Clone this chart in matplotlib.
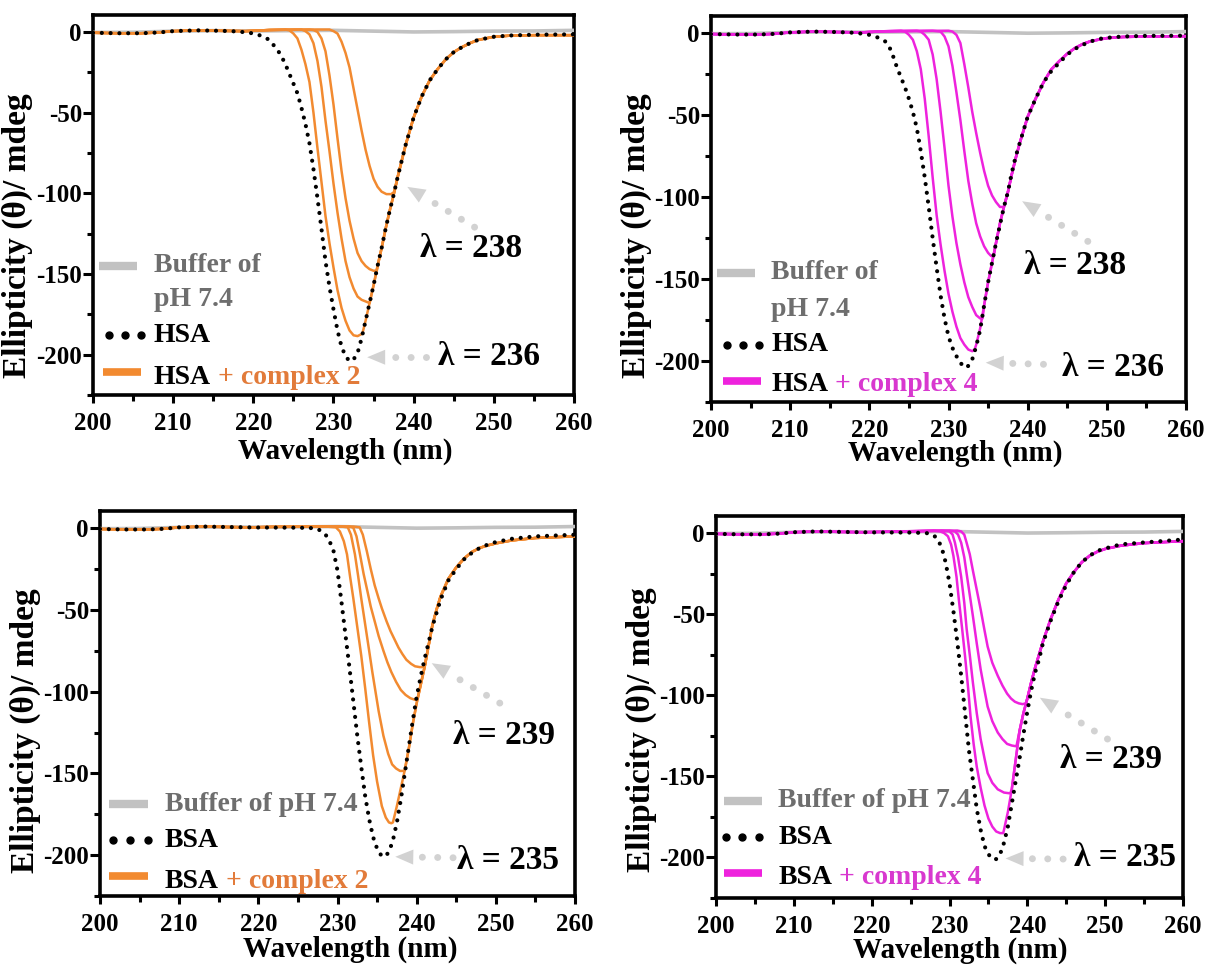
import matplotlib
matplotlib.use("Agg")
import numpy as np
import matplotlib.pyplot as plt
from matplotlib.ticker import MultipleLocator
from matplotlib.patches import Polygon

plt.rcParams['font.family'] = ['Liberation Serif', 'DejaVu Serif']
plt.rcParams['font.weight'] = 'bold'

# ---------------- data ----------------
buffer_wl = [200, 205, 210, 215, 220, 225, 230, 235, 240, 245, 250, 255, 260]
buffer_val = [-0.3, -0.2, 0.5, 0.8, 0.6, 0.8, 1.0, 0.5, 0.0, 0.2, 0.5, 0.6, 1.0]

pre_wl = [200, 203, 206, 208, 210, 213, 216, 219]
pre_val = [-0.5, -0.8, -0.8, -0.4, 0.5, 1.0, 0.7, 0.5]

# Panel 1: HSA + complex 2
p1_protein_wl = [200, 203, 206, 208, 210, 213, 216, 218, 219.5, 220.5, 221.5, 222, 222.5, 223, 223.5, 224, 224.5,
                 225, 225.5, 226, 226.5, 227, 227.5, 228, 228.5, 229, 229.5, 230, 230.5, 231, 231.5, 232, 232.5,
                 233, 233.5, 234, 234.5, 235, 235.5, 236, 236.5, 237, 237.5, 238, 239, 240, 241, 242, 243, 244,
                 245, 246, 247, 248, 250, 252, 255, 260]
p1_protein_val = [-0.5, -0.8, -0.8, -0.4, 0.5, 1.0, 0.7, 0.3, -0.5, -1.5, -3.5, -5, -8, -11, -15, -20, -26,
                  -32, -38, -47, -57, -69, -85, -103, -122, -142, -158, -172, -185, -195, -201, -204, -203,
                  -199, -190, -179, -168, -157, -145, -134, -122, -111, -101, -90, -70, -53, -40, -30, -23, -17,
                  -12.5, -9.5, -7, -5, -3, -2.2, -1.7, -1.5]
p1_tail_wl = [234, 234.5, 235, 235.5, 236, 236.5, 237, 237.5, 238, 239, 240, 241, 242, 243, 244, 245, 246, 247,
              248, 250, 252, 255, 260]
p1_tail_val = [-179, -168, -157, -145, -134, -122, -111, -101, -90, -70, -53, -40, -30, -23, -17, -12.5, -9.5,
               -7, -5, -3, -2.3, -2, -2]
p1_c1_wl = [222, 224, 224.5, 225, 225.5, 226, 226.5, 227, 227.5, 228, 228.5, 229, 229.5, 230, 230.5, 231, 231.5,
            232, 232.5, 233, 233.6]
p1_c1_val = [1.2, 1.5, 1, -1, -4, -11, -20, -31, -50, -72, -93, -114, -131, -146, -160, -171, -179, -185, -188,
             -188.5, -187]
p1_c2_wl = [222, 225, 226, 226.5, 227, 227.5, 228, 228.5, 229, 229.5, 230, 230.5, 231, 231.5, 232, 232.5, 233,
            233.5, 234, 234.5]
p1_c2_val = [1.2, 1.5, 1.5, 0.5, -1.5, -7, -18, -34, -55, -74, -94, -112, -128, -142, -152, -159, -164, -166,
             -167, -168]
p1_c3_wl = [222, 227, 227.5, 228, 228.5, 229, 229.5, 230, 230.5, 231, 231.5, 232, 232.5, 233, 233.5, 234, 234.5,
            235, 235.4]
p1_c3_val = [1.2, 1.5, 1.2, 0, -4, -12, -27, -45, -66, -86, -103, -117, -128, -137, -142, -145, -147, -148, -148]
p1_c4_wl = [222, 228, 229.5, 230, 230.5, 231, 231.5, 232, 232.5, 233, 233.5, 234, 234.5, 235, 235.5, 236, 236.6,
            237.2, 237.6]
p1_c4_val = [1.2, 1.5, 1.5, 0.5, -1, -6, -13, -22, -35, -48, -61, -73, -83, -91, -96, -99, -100.5, -100.5, -99]

# Panel 2: HSA + complex 4
p2_protein_wl = [200, 203, 206, 208, 210, 213, 216, 218, 219.5, 220.5, 221.5, 222, 222.5, 223, 223.5, 224, 224.5,
                 225, 225.5, 226, 226.5, 227, 227.5, 228, 228.5, 229, 229.5, 230, 230.5, 231, 231.5, 232, 232.5,
                 233, 233.5, 234, 234.5, 235, 235.5, 236, 236.5, 237, 237.5, 238, 238.5, 239, 240, 241, 242,
                 243, 244, 245, 246, 247, 248, 249, 250, 252, 255, 260]
p2_protein_val = [-0.5, -0.8, -0.8, -0.4, 0.5, 1.0, 0.7, 0.3, -0.5, -1.5, -3.5, -5, -8, -14, -21, -27, -33, -40,
                  -48, -58, -72, -88, -106, -125, -143, -160, -174, -185, -192, -197, -201, -204, -203, -199,
                  -191, -181, -166, -152, -140, -128, -117, -106, -97, -85, -75, -67, -51, -40, -30, -23, -18,
                  -13, -9.5, -7, -5, -3.5, -2.8, -2, -1.6, -1.5]
p2_tail_wl = [233.5, 234, 234.5, 235, 235.5, 236, 236.5, 237, 237.5, 238, 238.5, 239, 240, 241, 242, 243, 244,
              245, 246, 247, 248, 250, 252, 255, 260]
p2_tail_val = [-190, -180, -166, -152, -140, -128, -116, -106, -97, -86, -76, -67, -51, -40, -30, -22, -17,
               -12.5, -9, -6.5, -4.8, -3, -2.3, -2, -1.8]
p2_c1_wl = [222, 224, 224.5, 225, 225.5, 226, 226.5, 227, 227.5, 228, 228.5, 229, 229.5, 230, 230.5, 231, 231.5,
            232, 232.5, 233, 233.3]
p2_c1_val = [1.2, 1.5, 1, -1, -4, -11, -22, -40, -63, -88, -111, -129, -145, -159, -170, -179, -186, -190, -193,
             -194, -193]
p2_c2_wl = [222, 226, 226.5, 227, 227.5, 228, 228.5, 229, 229.5, 230, 230.5, 231, 231.5, 232, 232.5, 233, 233.5,
            234, 234.3]
p2_c2_val = [1.2, 1.5, 1, -1, -4, -13, -28, -48, -70, -93, -112, -128, -141, -152, -161, -167, -172, -174, -174]
p2_c3_wl = [222, 228, 229, 229.5, 230, 230.5, 231, 231.5, 232, 232.5, 233, 233.5, 234, 234.5, 235, 235.4, 235.7]
p2_c3_val = [1.2, 1.5, 1, -2, -8, -20, -36, -53, -72, -90, -104, -116, -124, -130, -134, -136, -136]
p2_c4_wl = [222, 230, 230.5, 231, 231.5, 232, 232.5, 233, 233.5, 234, 234.5, 235, 235.5, 236, 236.5, 236.9]
p2_c4_val = [1.2, 1.5, 1, -1, -6, -19, -33, -48, -61, -73, -84, -93, -99, -103, -106, -106]

# Panel 3: BSA + complex 2
p3_protein_wl = [200, 203, 206, 208, 210, 213, 216, 220, 225, 227, 227.5, 228, 228.5, 229, 229.5, 230, 230.5,
                 231, 231.5, 232, 232.5, 233, 233.5, 234, 234.5, 235, 235.5, 236, 236.5, 237, 237.5, 238, 238.5,
                 239, 239.5, 240, 240.5, 241, 242, 243, 244, 245, 246, 247, 248, 249, 250, 252, 255, 260]
p3_protein_val = [-0.5, -0.8, -0.8, -0.4, 0.5, 1.0, 0.7, 0.4, 0.3, 0, -0.5, -2, -4, -8, -14, -26, -45, -65, -85,
                  -106, -127, -146, -164, -178, -189, -196, -200, -201, -198, -191, -180, -166, -150, -134, -118,
                  -103, -91, -80, -60, -44, -32, -25, -19, -15, -12, -10, -8.5, -6.5, -5, -4]
p3_tail_wl = [237, 237.5, 238, 238.5, 239, 239.5, 240, 240.5, 241, 241.5, 242, 242.5, 243, 244, 245, 246, 247,
              248, 249, 250, 252, 255, 260]
p3_tail_val = [-180, -170, -159, -148, -135, -120, -107, -96, -85, -72, -59, -50, -42, -31, -24, -18.5, -14.5,
               -12, -10.5, -9.3, -7.5, -6, -5]
p3_c1_wl = [222, 228.5, 229.8, 230.3, 230.8, 231.2, 231.6, 232, 232.4, 233, 233.5, 234, 234.5, 235, 235.6, 236.1,
            236.5, 236.8]
p3_c1_val = [0.8, 1, 0.5, -2, -8, -16, -30, -43, -57, -78, -98, -119, -139, -155, -170, -177, -180, -180.5]
p3_c2_wl = [222, 230.5, 231.3, 231.7, 232.2, 232.6, 233, 233.5, 234, 234.4, 234.7, 235.2, 235.8, 236.4, 236.9,
            237.4, 237.9, 238.4]
p3_c2_val = [0.8, 1, 0.5, -4, -16, -29, -43, -59, -75, -88, -97, -112, -127, -138, -144.5, -147, -148.5, -148.5]
p3_c3_wl = [222, 231.5, 232, 232.4, 232.8, 233.3, 233.8, 234.2, 234.7, 235.2, 235.8, 236.3, 236.8, 237.4, 238,
            238.6, 239.2, 239.8, 240.1]
p3_c3_val = [0.8, 1, 0.3, -5, -15, -28, -39, -48, -57, -66, -75, -82, -88, -94, -99, -102, -104, -105, -104.5]
p3_c4_wl = [222, 232, 232.8, 233.2, 233.7, 234.2, 234.7, 235.2, 235.6, 236.2, 236.7, 237.2, 237.7, 238.2, 238.7,
            239.3, 239.8, 240.4, 241]
p3_c4_val = [0.8, 1, 0.5, -4, -14, -25, -35, -43, -49, -57, -63, -68, -73, -77, -80.5, -83, -84.5, -85, -85]

# Panel 4: BSA + complex 4
p4_protein_wl = [200, 203, 206, 208, 210, 213, 216, 220, 225, 227, 227.5, 228, 228.5, 229, 229.5, 230, 230.5,
                 231, 231.5, 232, 232.5, 233, 233.5, 234, 234.5, 235, 235.5, 236, 236.5, 237, 237.5, 238, 238.5,
                 239, 239.5, 240, 240.5, 241, 241.5, 242, 243, 244, 245, 246, 247, 248, 249, 250, 252, 255, 260]
p4_protein_val = [-0.5, -0.8, -0.8, -0.4, 0.5, 1.0, 0.7, 0.4, 0.3, 0, -0.5, -1.5, -4, -9, -18, -31, -48, -67,
                  -88, -111, -134, -152, -170, -183, -193, -198, -201, -201, -198, -191, -181, -167, -153, -139,
                  -124, -110, -97, -86, -78, -68, -54, -42, -32, -24, -18, -14, -11, -9.5, -7, -5.8, -4]
p4_tail_wl = [237, 237.5, 238, 238.5, 239, 239.5, 240, 240.5, 241, 241.5, 242, 243, 244, 245, 246, 247, 248, 249,
              250, 252, 255, 260]
p4_tail_val = [-183, -172, -158, -140, -122, -111, -102, -92, -83, -75, -67, -53, -41, -31, -24, -18, -14, -11.5,
               -9.8, -7.8, -6.2, -5]
p4_c1_wl = [222, 228, 228.8, 229.3, 229.8, 230.2, 230.5, 230.9, 231.2, 231.6, 232, 232.4, 232.7, 233.1, 233.5,
            234, 234.5, 235, 235.5, 236, 236.5, 236.9]
p4_c1_val = [0.8, 1.5, 1, 0, -2, -7, -14, -27, -41, -58, -76, -96, -113, -130, -144, -157, -168, -176, -181,
             -184, -185, -185]
p4_c2_wl = [222, 229, 230, 230.4, 230.7, 231.1, 231.5, 231.9, 232.2, 232.6, 233, 233.5, 234, 234.5, 234.9, 235.5,
            236.2, 237, 237.8]
p4_c2_val = [0.8, 1.5, 1, -1, -6, -15, -27, -43, -59, -75, -92, -111, -127, -139, -148, -154, -158, -160, -160.5]
p4_c3_wl = [222, 230, 230.7, 231.1, 231.5, 231.9, 232.2, 232.6, 233, 233.5, 234, 234.5, 234.9, 235.5, 236.2,
            236.8, 237.4, 238, 238.6]
p4_c3_val = [0.8, 1.5, 1, -1, -6, -15, -25, -38, -51, -68, -84, -97, -107, -116, -123, -127, -130, -131, -131.5]
p4_c4_wl = [222, 231, 231.5, 231.9, 232.2, 232.6, 233, 233.5, 234, 234.5, 234.9, 235.5, 236.2, 236.8, 237.4,
            237.9, 238.4, 238.9, 239.4, 239.8]
p4_c4_val = [0.8, 1.5, 1, -1, -6, -13, -23, -35, -47, -60, -70, -80, -88, -94, -99, -102, -104, -105, -105.5,
             -105]

x_ticks = [200, 210, 220, 230, 240, 250, 260]
y_ticks = [0, -50, -100, -150, -200]

ORANGE = '#F28A30'
MAGENTA = '#EE22DD'
ORANGE_TXT = '#E27B3A'
MAGENTA_TXT = '#D838CF'
GRAY = '#C2C2C2'
GRAY_TXT = '#6E6E6E'
ARROW = '#D2D2D2'

panels = [
    dict(rect=(93, 15, 574, 395), protein='HSA', complex='complex 2', color=ORANGE, tcolor=ORANGE_TXT,
         pw=p1_protein_wl, pv=p1_protein_val, tw=p1_tail_wl, tv=p1_tail_val,
         curves=[(p1_c1_wl, p1_c1_val), (p1_c2_wl, p1_c2_val), (p1_c3_wl, p1_c3_val), (p1_c4_wl, p1_c4_val)],
         a1=((247.6, -121), (239.2, -96)), l1=('λ = 238', 247.1, -134),
         a2=((241.6, -201.6), (234.2, -201.6)), l2=('λ = 236', 249.4, -201),
         xlab=(0.524, -0.113), ylab=(-0.125, 0.42),
         buf_two_lines=True, leg=dict(gray=(200.7, 205.5, -145), txt=207.6, pH=-166, dots=(202, 206, -188),
                                      cl=(201.2, 206, -211), ctxt=-218)),
    dict(rect=(711, 16, 1186, 402), protein='HSA', complex='complex 4', color=MAGENTA, tcolor=MAGENTA_TXT,
         pw=p2_protein_wl, pv=p2_protein_val, tw=p2_tail_wl, tv=p2_tail_val,
         curves=[(p2_c1_wl, p2_c1_val), (p2_c2_wl, p2_c2_val), (p2_c3_wl, p2_c3_val), (p2_c4_wl, p2_c4_val)],
         a1=((247.6, -127), (239.3, -102.5)), l1=('λ = 238', 246.0, -142),
         a2=((242.0, -202), (234.7, -201)), l2=('λ = 236', 250.8, -204),
         xlab=(0.514, -0.098), ylab=(-0.125, 0.43),
         buf_two_lines=True, leg=dict(gray=(200.7, 205.6, -146), txt=207.6, pH=-168.5, dots=(202, 206, -190),
                                      cl=(201.5, 206.3, -212), ctxt=-218.5)),
    dict(rect=(100, 511, 575, 896), protein='BSA', complex='complex 2', color=ORANGE, tcolor=ORANGE_TXT,
         pw=p3_protein_wl, pv=p3_protein_val, tw=p3_tail_wl, tv=p3_tail_val,
         curves=[(p3_c1_wl, p3_c1_val), (p3_c2_wl, p3_c2_val), (p3_c3_wl, p3_c3_val), (p3_c4_wl, p3_c4_val)],
         a1=((250.5, -107), (241.9, -82.6)), l1=('λ = 239', 251.0, -127),
         a2=((244.6, -201.6), (237.3, -201)), l2=('λ = 235', 251.5, -203),
         xlab=(0.526, -0.104), ylab=(-0.125, 0.43),
         buf_two_lines=False, leg=dict(gray=(201.1, 206, -169), txt=208.2, pH=None, dots=(201.6, 206, -191),
                                       cl=(201.1, 206, -213), ctxt=-220)),
    dict(rect=(716, 516, 1183, 898), protein='BSA', complex='complex 4', color=MAGENTA, tcolor=MAGENTA_TXT,
         pw=p4_protein_wl, pv=p4_protein_val, tw=p4_tail_wl, tv=p4_tail_val,
         curves=[(p4_c1_wl, p4_c1_val), (p4_c2_wl, p4_c2_val), (p4_c3_wl, p4_c3_val), (p4_c4_wl, p4_c4_val)],
         a1=((250.3, -127), (241.6, -101.5)), l1=('λ = 239', 250.8, -139.5),
         a2=((244.6, -201), (237.2, -200.6)), l2=('λ = 235', 252.5, -200),
         xlab=(0.522, -0.1), ylab=(-0.126, 0.44),
         buf_two_lines=False, leg=dict(gray=(201, 205.9, -165), txt=208, pH=None, dots=(201.3, 205.5, -187.5),
                                       cl=(201, 205.9, -209.5), ctxt=-216.5)),
]

W, H = 1205, 968
fig = plt.figure(figsize=(W / 100, H / 100), dpi=100)

TICK_FS = 18
XLABEL_FS = 21
YLABEL_FS = 24
LEG_FS = 20
LAM_FS = 24


def draw_arrow(ax, start, tip):
    T = ax.transData
    p0 = T.transform(start)
    p1 = T.transform(tip)
    d = p0 - p1
    u = d / np.hypot(*d)
    n = np.array([-u[1], u[0]])
    head_len, half_w = 18.0, 7.5
    base = p1 + u * head_len
    tri = np.array([p1, base + n * half_w, base - n * half_w])
    tri_data = T.inverted().transform(tri)
    base_data = T.inverted().transform(base + u * 4)
    ax.plot([start[0], base_data[0]], [start[1], base_data[1]], color=ARROW, lw=5,
            linestyle=(0, (0.01, 2.2)), dash_capstyle='round', zorder=2)
    ax.add_patch(Polygon(tri_data, closed=True, facecolor=ARROW, edgecolor='none', zorder=2))


for p in panels:
    l, t, r, b = p['rect']
    ax = fig.add_axes([l / W, 1 - b / H, (r - l) / W, (b - t) / H])
    ax.set_xlim(200, 260)
    ax.set_ylim(-225, 10.5)

    ax.plot(buffer_wl, buffer_val, color=GRAY, lw=2.6, zorder=3)
    for cw, cv in p['curves']:
        xs = list(pre_wl) + list(cw)
        ys = list(pre_val) + list(cv)
        last = cw[-1]
        for tw_, tv_ in zip(p['tw'], p['tv']):
            if tw_ > last:
                xs.append(tw_)
                ys.append(tv_)
        ax.plot(xs, ys, color=p['color'], lw=1.8, zorder=4, solid_joinstyle='round')
    ax.plot(p['pw'], p['pv'], color='black', lw=3.0, linestyle=(0, (0.01, 2.1)),
            dash_capstyle='round', zorder=5)

    # arrows and lambda labels
    draw_arrow(ax, *p['a1'])
    draw_arrow(ax, *p['a2'])
    for txt, x, y in (p['l1'], p['l2']):
        ax.text(x, y, txt, fontsize=LAM_FS, fontweight='bold', ha='center', va='center', color='black',
                zorder=6)

    # legend (manual)
    lg = p['leg']
    gx0, gx1, gy = lg['gray']
    ax.plot([gx0, gx1], [gy, gy], color=GRAY, lw=6, solid_capstyle='butt', zorder=6)
    if p['buf_two_lines']:
        ax.text(lg['txt'], gy, 'Buffer of', fontsize=LEG_FS, fontweight='bold', color=GRAY_TXT,
                ha='left', va='center', zorder=6)
        ax.text(lg['txt'], lg['pH'], 'pH 7.4', fontsize=LEG_FS, fontweight='bold', color=GRAY_TXT,
                ha='left', va='center', zorder=6)
    else:
        ax.text(lg['txt'], gy, 'Buffer of pH 7.4', fontsize=LEG_FS, fontweight='bold', color=GRAY_TXT,
                ha='left', va='center', zorder=6)
    dx0, dx1, dy = lg['dots']
    ax.plot([dx0, (dx0 + dx1) / 2, dx1], [dy, dy, dy], linestyle='none', marker='o', markersize=5,
            color='black', zorder=6)
    ax.text(lg['txt'], dy, p['protein'], fontsize=LEG_FS, fontweight='bold', color='black',
            ha='left', va='center', zorder=6)
    cx0, cx1, cy = lg['cl']
    ax.plot([cx0, cx1], [cy, cy], color=p['color'], lw=5.5, solid_capstyle='butt', zorder=6)
    t1 = ax.text(lg['txt'], lg['ctxt'], p['protein'], fontsize=LEG_FS, fontweight='bold', color='black',
                 ha='left', va='baseline', zorder=6)
    ax.annotate(' + ' + p['complex'], xy=(1, 0), xycoords=t1, fontsize=LEG_FS, fontweight='bold',
                color=p['tcolor'], ha='left', va='bottom', zorder=6)

    # axes styling
    ax.set_xticks(x_ticks)
    ax.set_yticks(y_ticks)
    ax.set_xticklabels([str(v) for v in x_ticks])
    ax.set_yticklabels([str(v) for v in y_ticks])
    ax.xaxis.set_minor_locator(MultipleLocator(5))
    ax.yaxis.set_minor_locator(MultipleLocator(25))
    ax.tick_params(which='major', direction='out', length=6, width=2.2, labelsize=TICK_FS)
    ax.tick_params(which='minor', direction='out', length=4, width=2.2)
    ax.tick_params(axis='x', which='major', pad=6)
    ax.tick_params(axis='y', which='major', pad=1, length=7)
    for lab in ax.get_xticklabels() + ax.get_yticklabels():
        lab.set_fontweight('bold')
    for s in ax.spines.values():
        s.set_linewidth(2.6)
    ax.set_xlabel('Wavelength (nm)', fontsize=XLABEL_FS, fontweight='bold')
    ax.set_ylabel('Ellipticity (θ)/ mdeg', fontsize=YLABEL_FS, fontweight='bold')
    ax.xaxis.set_label_coords(*p['xlab'])
    ax.yaxis.set_label_coords(*p['ylab'])

fig.savefig('out.png', dpi=100)
